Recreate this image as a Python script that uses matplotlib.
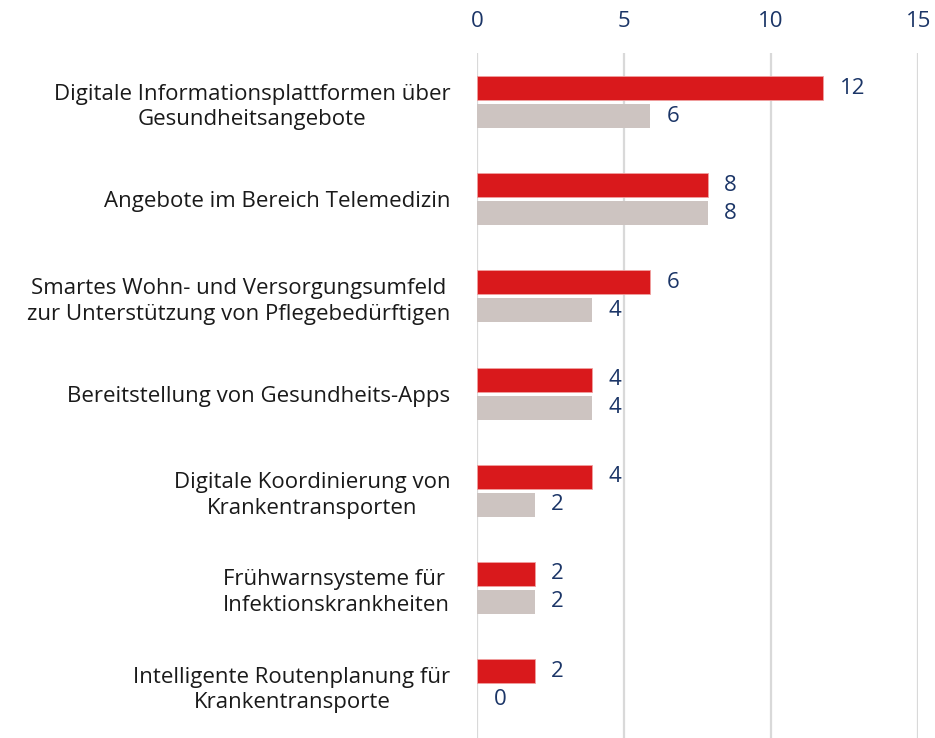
import matplotlib
matplotlib.use("Agg")
import matplotlib.pyplot as plt
import numpy as np

plt.rcParams['font.family'] = ['Open Sans', 'DejaVu Sans']

categories = [
    "Digitale Informationsplattformen über\nGesundheitsangebote",
    "Angebote im Bereich Telemedizin",
    "Smartes Wohn- und Versorgungsumfeld\nzur Unterstützung von Pflegebedürftigen",
    "Bereitstellung von Gesundheits-Apps",
    "Digitale Koordinierung von\nKrankentransporten",
    "Frühwarnsysteme für \nInfektionskrankheiten",
    "Intelligente Routenplanung für\nKrankentransporte",
]
series_red = [11.76, 7.84, 5.88, 3.92, 3.92, 1.96, 1.96]
series_gray = [5.88, 7.84, 3.92, 3.92, 1.96, 1.96, 0.0]
xticks = [0, 5, 10, 15]

RED = "#D9191C"
GRAY = "#CDC4C1"
NAVY = "#1B3567"

fig = plt.figure(figsize=(9.35, 7.38), dpi=100)
ax = fig.add_axes([0.510, 0.0, 0.472, 0.928])

y = np.arange(len(categories))
h = 0.247
off = 0.144
ax.barh(y - off, series_red, height=h, color=RED, edgecolor="#F0A0A0", linewidth=0.6, zorder=3)
ax.barh(y + off, series_gray, height=h, color=GRAY, linewidth=0, zorder=3)

for yi, v in zip(y, series_red):
    ax.annotate(f"{v:.0f}", (v, yi - off), xytext=(12, 0), textcoords="offset points",
                va="center", ha="left", fontsize=16, color=NAVY)
for yi, v in zip(y, series_gray):
    ax.annotate(f"{v:.0f}", (v, yi + off), xytext=(12, 0), textcoords="offset points",
                va="center", ha="left", fontsize=16, color=NAVY)

ax.set_xlim(0, 15)
ax.set_ylim(6.545, -0.504)
ax.set_xticks(xticks)
ax.xaxis.tick_top()
ax.tick_params(axis="x", length=0, pad=15, labelsize=16, labelcolor=NAVY)
ax.set_yticks(y)
ax.set_yticklabels(categories, fontsize=16, color="#1a1a1a", multialignment="center",
                   linespacing=1.3)
ax.tick_params(axis="y", length=0, pad=19)
ax.grid(axis="x", color="#D9D9D9", linewidth=1.6, zorder=0)
for s in ax.spines.values():
    s.set_visible(False)

fig.savefig("out.png", dpi=100)
